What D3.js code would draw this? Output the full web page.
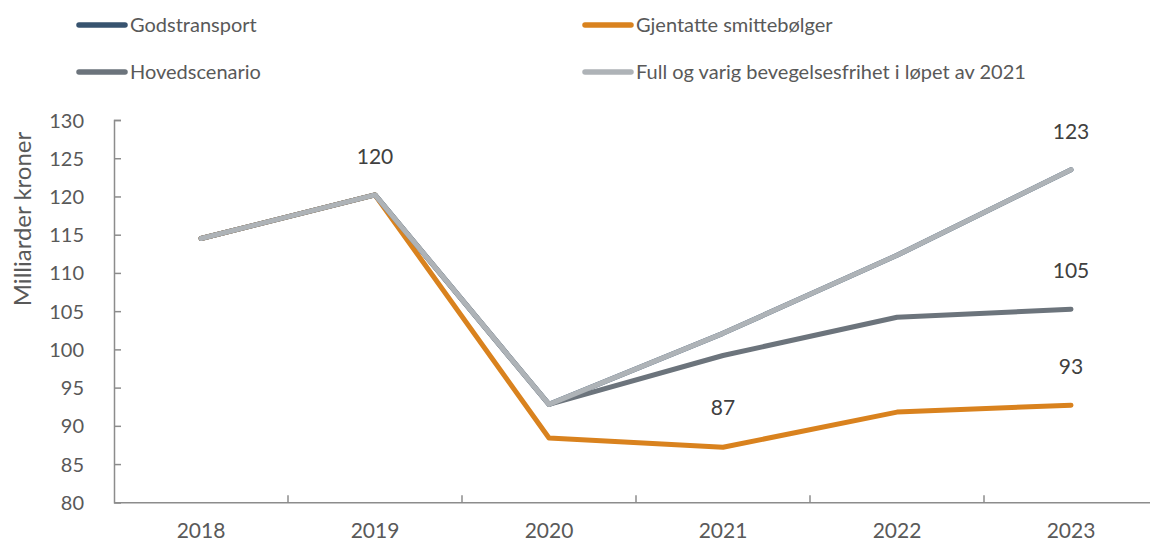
<!DOCTYPE html>
<html><head><meta charset="utf-8">
<script src="https://cdn.jsdelivr.net/npm/d3@7"></script>
<style>body{margin:0;background:#fff}svg{display:block}text{font-family:Lato,"Open Sans",sans-serif}</style>
</head><body>
<svg id="c" width="1150" height="543"></svg>
<script>
const years = ["2018","2019","2020","2021","2022","2023"];
const godstransport = [114.5,120.2,92.8,102.1,112.3,123.5];
const gjentatte = [114.5,120.2,88.4,87.2,91.8,92.7];
const hovedscenario = [114.5,120.2,92.8,99.2,104.2,105.25];
const fullVarig = [114.5,120.2,92.8,102.1,112.3,123.5];
const yTicks = [80,85,90,95,100,105,110,115,120,125,130];
const seriesNames = ["Godstransport","Gjentatte smittebølger","Hovedscenario","Full og varig bevegelsesfrihet i løpet av 2021"];
const labels = [
  {s:3,i:1,t:"120",dy:-31},
  {s:1,i:3,t:"87",dy:-32},
  {s:3,i:5,t:"123",dy:-31},
  {s:2,i:5,t:"105",dy:-31},
  {s:1,i:5,t:"93",dy:-31}
];

const colors = ["#37536f","#d9821e","#6c747c","#aeb3b7"];
const data = [godstransport,gjentatte,hovedscenario,fullVarig];

const svg = d3.select("#c");
const mLeft = 114, mTop = 120, mBottom = 502.3, step = 174;
const x = d3.scaleBand().domain(years).range([mLeft, mLeft + step*years.length]).paddingInner(0).paddingOuter(0);
const y = d3.scaleLinear().domain([80,130]).range([mBottom, mTop]);
const axisColor = "#8c8c8c", textColor = "#595959";
const ff = "Lato,'Open Sans',sans-serif";

// y axis
const ya = svg.append("g").attr("transform",`translate(${mLeft},0)`)
  .call(d3.axisLeft(y).tickValues(yTicks).tickSizeInner(-7).tickSizeOuter(-7).tickPadding(30));
ya.select(".domain").attr("stroke",axisColor).attr("stroke-width",1.5);
ya.selectAll(".tick line").attr("stroke",axisColor).attr("stroke-width",1.5);
ya.selectAll(".tick text").attr("fill",textColor).attr("font-size",20).attr("font-family",ff).attr("dy","0.35em");

// x axis
const xa = svg.append("g").attr("transform",`translate(0,${mBottom})`)
  .call(d3.axisBottom(x).tickSize(0).tickPadding(21));
xa.select(".domain").attr("stroke",axisColor).attr("stroke-width",1.5);
xa.selectAll(".tick text").attr("fill",textColor).attr("font-size",21).attr("font-family",ff);
// category boundary ticks
svg.append("g").selectAll("line").data(years.slice(1)).join("line")
  .attr("x1",d=>x(d)).attr("x2",d=>x(d)).attr("y1",mBottom).attr("y2",mBottom-7)
  .attr("stroke",axisColor).attr("stroke-width",1.5);

// y title
svg.append("text").attr("transform","translate(31,219) rotate(-90)").attr("text-anchor","middle")
  .attr("fill",textColor).attr("font-size",24).text("Milliarder kroner");

// lines
const line = d3.line().x((d,i)=>x(years[i])+x.bandwidth()/2).y(d=>y(d));
svg.append("g").selectAll("path").data(data).join("path")
  .attr("d",line).attr("fill","none").attr("stroke",(d,i)=>colors[i])
  .attr("stroke-width",5).attr("stroke-linejoin","round").attr("stroke-linecap","round");

// data labels
svg.append("g").selectAll("text").data(labels).join("text")
  .attr("x",d=>x(years[d.i])+x.bandwidth()/2).attr("y",d=>y(data[d.s][d.i])+d.dy)
  .attr("text-anchor","middle").attr("fill","#404040").attr("font-size",21).text(d=>d.t);

// legend
const leg = [{x:77,y:25},{x:583,y:25},{x:77,y:72},{x:583,y:72}];
const lg = svg.append("g").selectAll("g").data(seriesNames).join("g")
  .attr("transform",(d,i)=>`translate(${leg[i].x},${leg[i].y})`);
lg.append("line").attr("x1",2).attr("x2",48).attr("stroke",(d,i)=>colors[i]).attr("stroke-width",5.5).attr("stroke-linecap","round");
lg.append("text").attr("x",53).attr("dy","0.35em").attr("fill",textColor).attr("font-size",20).text(d=>d);
</script>
</body></html>
